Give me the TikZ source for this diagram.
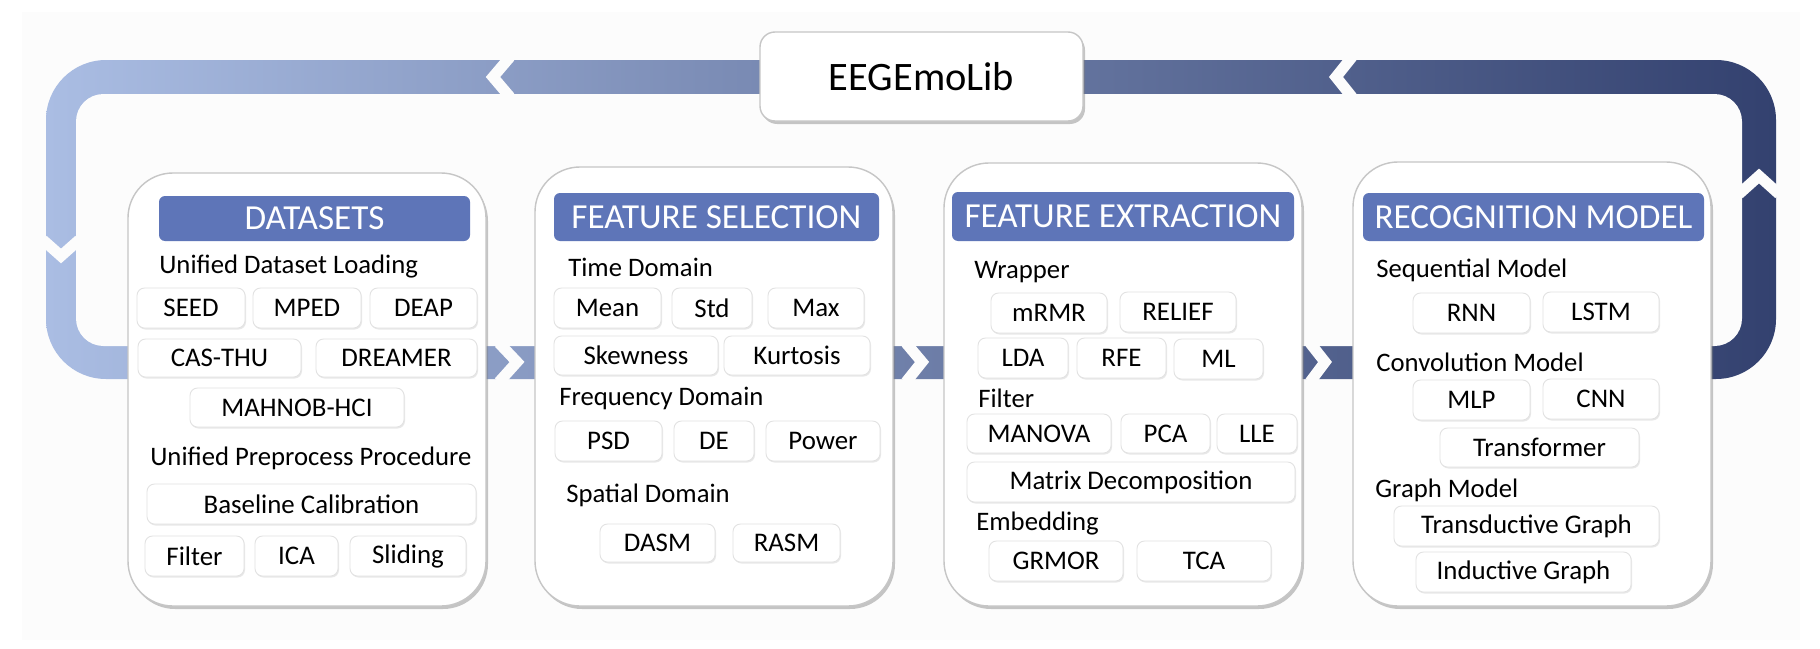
\documentclass[tikz,border=0pt]{standalone}
\usepackage{fontspec}
\setmainfont{Carlito}
\usetikzlibrary{shadows}
\definecolor{bg}{HTML}{FCFCFC}
\definecolor{lightb}{HTML}{AABDE3}
\definecolor{darkb}{HTML}{33416F}
\definecolor{titleb}{HTML}{5E75B8}
\definecolor{itemborder}{HTML}{E2E2E2}
\tikzset{
  panel/.style={draw=gray!45, line width=0.8pt, fill=white, rounded corners=0.9cm,
     drop shadow={opacity=0.45, shadow xshift=0.04cm, shadow yshift=-0.06cm}},
  titlebar/.style={fill=titleb, rounded corners=0.12cm, text=white, font=\fontsize{20}{22}\selectfont, inner sep=0pt},
  item/.style={draw=itemborder, line width=0.5pt, fill=white, rounded corners=0.15cm, inner sep=0pt,
     font=\fontsize{15.3}{17}\selectfont,
     drop shadow={opacity=0.18, shadow xshift=0.02cm, shadow yshift=-0.03cm}},
  sect/.style={anchor=west, inner sep=0pt, font=\fontsize{15.2}{17}\selectfont},
  gap/.style={draw=bg, line width=0.22cm, line join=miter},
}
\newcommand\itm[6]{\node[item, minimum width={(#4-#2)*0.02cm}, minimum height={(#5-#3)*0.02cm}] (#1) at ({(#2+#4)/2},{(#3+#5)/2}) {#6};}
\newcommand\ttl[6]{\node[titlebar, minimum width={(#4-#2)*0.02cm}, minimum height={(#5-#3)*0.02cm}] (#1) at ({(#2+#4)/2},{(#3+#5)/2}) {#6};}
\begin{document}
\begin{tikzpicture}[x=0.02cm,y=-0.02cm]
\path[fill=white] (0,0) rectangle (1820,649);
\path[fill=bg] (22,12) rectangle (1800,640);
\useasboundingbox (0,0) rectangle (1820,649);
% loop
\shade[left color=lightb, right color=darkb] (46,60) [rounded corners=1.2cm] rectangle (1776,379);
\path[fill=bg, rounded corners=0.55cm] (76,94) rectangle (1742,346);
% chevron gaps
\draw[gap] (510,57) -- (493,77) -- (510,97);
\draw[gap] (1352,57) -- (1336,77) -- (1352,97);
\draw[gap] (43,240) -- (61,256) -- (79,240);
\draw[gap] (1739,194) -- (1759,176) -- (1779,194);
\draw[gap] (499,343) -- (517,362) -- (499,382);
\draw[gap] (906,343) -- (922,362) -- (906,382);
\draw[gap] (1310,343) -- (1325,362) -- (1310,382);
% top box
\node[panel, rounded corners=0.3cm, minimum width={323*0.02cm}, minimum height={89*0.02cm}, font=\fontsize{23}{25}\selectfont, inner sep=0pt] (lib) at (921.5,76.5) {EEGEmoLib};
% panels
\path[panel] (128,173) rectangle (486,606);
\path[panel] (535,167) rectangle (893,606);
\path[panel] (944,163) rectangle (1302,606);
\path[panel] (1353,162) rectangle (1711,606);
% panel 1
\ttl{t1}{159}{196}{470}{241}{DATASETS}
\node[sect] (s11) at (159,267) {Unified Dataset Loading};
\itm{seed}{137}{288}{245}{328}{SEED}
\itm{mped}{253}{288}{361}{328}{MPED}
\itm{deap}{370}{288}{477}{328}{DEAP}
\itm{cas}{138}{339}{301}{377}{CAS-THU}
\itm{dreamer}{316}{339}{477}{377}{DREAMER}
\itm{mahnob}{190}{388}{404}{427}{MAHNOB-HCI}
\node[sect] (s12) at (150,458) {Unified Preprocess Procedure};
\itm{base}{147}{484}{476}{524}{Baseline Calibration}
\itm{filt}{145}{536}{244}{576}{Filter}
\itm{ica}{255}{536}{338}{576}{ICA}
\itm{slid}{350}{536}{466}{576}{Sliding}
% panel 2
\ttl{t2}{554}{193}{879}{241}{FEATURE SELECTION}
\node[sect] (s21) at (568,267) {Time Domain};
\itm{mean}{554}{288}{661}{328}{Mean}
\itm{std}{672}{288}{752}{328}{Std}
\itm{max}{768}{288}{864}{328}{Max}
\itm{skew}{554}{336}{718}{375}{Skewness}
\itm{kurt}{724}{336}{870}{375}{Kurtosis}
\node[sect] (s22) at (559,398) {Frequency Domain};
\itm{psd}{555}{421}{662}{461}{PSD}
\itm{de}{674}{421}{754}{461}{DE}
\itm{power}{766}{421}{880}{461}{Power}
\node[sect] (s23) at (566,495) {Spatial Domain};
\itm{dasm}{600}{524}{715}{562}{DASM}
\itm{rasm}{733}{524}{840}{562}{RASM}
% panel 3
\ttl{t3}{952}{192}{1294}{241}{FEATURE EXTRACTION}
\node[sect] (s31) at (974,272) {Wrapper};
\itm{mrmr}{991}{293}{1107}{333}{mRMR}
\itm{relief}{1120}{292}{1236}{332}{RELIEF}
\itm{lda}{978}{338}{1068}{378}{LDA}
\itm{rfe}{1077}{338}{1166}{378}{RFE}
\itm{ml}{1174}{339}{1263}{379}{ML}
\node[sect] (s32) at (978,398) {Filter};
\itm{manova}{967}{414}{1111}{453}{MANOVA}
\itm{pca}{1121}{414}{1210}{453}{PCA}
\itm{lle}{1217}{414}{1297}{453}{LLE}
\itm{matrix}{967}{462}{1295}{502}{Matrix Decomposition}
\node[sect] (s33) at (976,524) {Embedding};
\itm{grmor}{989}{541}{1123}{581}{GRMOR}
\itm{tca}{1137}{541}{1271}{581}{TCA}
% panel 4
\ttl{t4}{1363}{193}{1704}{241}{RECOGNITION MODEL}
\node[sect] (s41) at (1376,270) {Sequential Model};
\itm{rnn}{1413}{293}{1530}{333}{RNN}
\itm{lstm}{1543}{292}{1659}{332}{LSTM}
\node[sect] (s42) at (1376,362) {Convolution Model};
\itm{mlp}{1413}{380}{1530}{420}{MLP}
\itm{cnn}{1543}{379}{1659}{419}{CNN}
\itm{trans}{1440}{428}{1639}{467}{Transformer}
\node[sect] (s43) at (1375,490) {Graph Model};
\itm{tgraph}{1394}{506}{1659}{546}{Transductive Graph}
\itm{igraph}{1416}{552}{1631}{592}{Inductive Graph}
\end{tikzpicture}
\end{document}
